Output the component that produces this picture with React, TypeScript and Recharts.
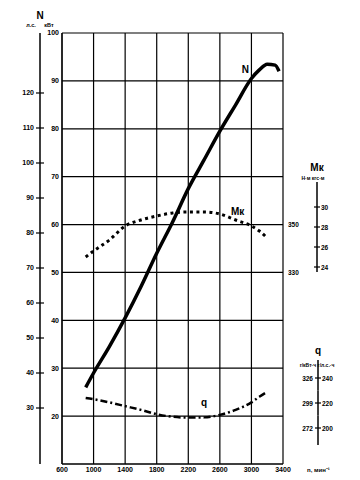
import { ComposedChart, Line, XAxis, YAxis, CartesianGrid } from 'recharts'

// engine speed, rpm
const rpm = [900, 1000, 1200, 1400, 1600, 1800, 2000, 2200, 2400, 2600, 2800, 3000, 3100, 3200, 3300, 3350]
// power N, kW
const powerKw = [26, 29, 34.5, 40.5, 47, 54, 60.5, 67.5, 73.5, 79.5, 85, 90.5, 92.3, 93.5, 93.3, 92]
// torque Mк, kgf·m
const torqueKgfm = [25, 25.6, 26.7, 28.1, 28.7, 29.1, 29.4, 29.5, 29.5, 29.3, 28.7, 28.1, 27.6, 26.9, null, null]
// specific fuel consumption q, g/hp·h
const fuelGhph = [224, 223, 220.5, 217.5, 214.5, 211, 209, 208.3, 208.5, 210.5, 214.5, 220.5, 225, 229, null, null]

const rpmTicks = [600, 1000, 1400, 1800, 2200, 2600, 3000, 3400]
const kwTicks = [20, 30, 40, 50, 60, 70, 80, 90, 100]
const hpTicks = [30, 40, 50, 60, 70, 80, 90, 100, 110, 120]
const mkNmTicks = [330, 350]
const mkTicks = [24, 26, 28, 30]
const qTicks = [200, 220, 240]
const qKwhLabels = [272, 299, 326]

const data = rpm.map((n, i) => ({
  n,
  N: powerKw[i],
  Mk: torqueKgfm[i],
  q: fuelGhph[i],
}))

const FONT = '"Liberation Sans", Arial, sans-serif'
const txt = { fontFamily: FONT, fontWeight: 700, fill: '#000' }

const HpTick = ({ x, y, payload }: any) => (
  <g>
    <line x1={x - 4} x2={x + 4} y1={y} y2={y} stroke="#000" strokeWidth={1.2} />
    <text x={x - 6} y={y + 2.5} textAnchor="end" fontSize={7} {...txt}>{payload.value}</text>
    {payload.value === hpTicks[hpTicks.length - 1] && (
      <>
        <text x={x} y={y - 74} textAnchor="middle" fontSize={10} {...txt}>N</text>
        <text x={x - 9} y={y - 66} textAnchor="middle" fontSize={5.5} {...txt}>л.с.</text>
        <text x={x + 9} y={y - 66} textAnchor="middle" fontSize={5.5} {...txt}>кВт</text>
      </>
    )}
  </g>
)

const MkTick = ({ x, y, payload }: any) => {
  const v = payload.value
  const top = v === mkTicks[mkTicks.length - 1]
  const bottom = v === mkTicks[0]
  return (
    <g>
      <line x1={x} x2={x} y1={y - (top ? 25 : 10)} y2={y + (bottom ? 5 : 10)} stroke="#000" strokeWidth={1.5} />
      <line x1={x - 3} x2={x + 3} y1={y} y2={y} stroke="#000" strokeWidth={1.2} />
      <text x={x + 4} y={y + 2.5} fontSize={6.5} {...txt}>{v}</text>
      {top && (
        <>
          <text x={x} y={y - 36} textAnchor="middle" fontSize={10} {...txt}>Mк</text>
          <text x={x - 4} y={y - 27} textAnchor="middle" fontSize={5} {...txt}>Н·м  кгс·м</text>
        </>
      )}
    </g>
  )
}

const QTick = ({ x, y, payload }: any) => {
  const v = payload.value
  const i = qTicks.indexOf(v)
  const top = i === qTicks.length - 1
  const bottom = i === 0
  return (
    <g>
      <line x1={x} x2={x} y1={y - (top ? 18 : 12.5)} y2={y + (bottom ? 17 : 12.5)} stroke="#000" strokeWidth={1.5} />
      <line x1={x - 3} x2={x + 3} y1={y} y2={y} stroke="#000" strokeWidth={1.2} />
      <text x={x - 5} y={y + 2.5} textAnchor="end" fontSize={6.5} {...txt}>{qKwhLabels[i]}</text>
      <text x={x + 4} y={y + 2.5} fontSize={6.5} {...txt}>{v}</text>
      {top && (
        <>
          <text x={x} y={y - 24} textAnchor="middle" fontSize={10} {...txt}>q</text>
          <text x={x - 1} y={y - 11} textAnchor="middle" fontSize={5} {...txt}>г/кВт·ч  г/л.с.·ч</text>
        </>
      )}
    </g>
  )
}

const XTick = ({ x, y, payload }: any) => (
  <g>
    <text x={x} y={y + 8} textAnchor="middle" fontSize={7} {...txt}>{payload.value}</text>
    {payload.value === rpmTicks[rpmTicks.length - 1] && (
      <text x={x + 24} y={y + 8} fontSize={6} {...txt}>n, мин⁻¹</text>
    )}
  </g>
)

const curveLabel = (text: string, at: number, dx: number, dy: number) => (props: any) => {
  if (props.index !== at) return null
  return (
    <text x={props.x + dx} y={props.y + dy} textAnchor="middle" fontSize={10} {...txt}>{text}</text>
  )
}

// axis ids are prefixed so they stack in the wanted order (a = next to the plot)
export default function App() {
  return (
    <div style={{ position: 'absolute', left: 0, top: 0, width: 360, height: 480, background: '#fff' }}>
      <ComposedChart width={360} height={480} data={data} margin={{ top: 33, right: 0, bottom: 0, left: 4 }}>
        <CartesianGrid yAxisId="a_kw" stroke="#000" strokeWidth={1.2} />
        <XAxis
          dataKey="n"
          type="number"
          domain={[600, 3400]}
          ticks={rpmTicks}
          interval={0}
          allowDataOverflow
          height={16}
          tickLine={false}
          tickSize={0}
          tickMargin={0}
          axisLine={{ stroke: '#000', strokeWidth: 1.2 }}
          tick={<XTick />}
        />
        <YAxis
          yAxisId="a_kw"
          type="number"
          domain={[10, 100]}
          ticks={kwTicks}
          interval={0}
          allowDataOverflow
          width={22}
          tickLine={false}
          tickSize={0}
          tickMargin={3}
          axisLine={{ stroke: '#000', strokeWidth: 1.2 }}
          tick={{ fontSize: 7, ...txt }}
        />
        <YAxis
          yAxisId="b_hp"
          type="number"
          domain={[14, 137.14]}
          ticks={hpTicks}
          interval={0}
          allowDataOverflow
          width={36}
          tickLine={false}
          tickSize={0}
          tickMargin={0}
          axisLine={{ stroke: '#000', strokeWidth: 1.5 }}
          tick={<HpTick />}
        />
        <YAxis
          yAxisId="a_mkNm"
          orientation="right"
          type="number"
          domain={[250.4, 430]}
          ticks={mkNmTicks}
          interval={0}
          allowDataOverflow
          width={34}
          tickLine={false}
          tickSize={0}
          tickMargin={5}
          axisLine={false}
          tick={{ fontSize: 6.5, ...txt }}
        />
        <YAxis
          yAxisId="b_mk"
          orientation="right"
          type="number"
          domain={[4.3, 47.4]}
          ticks={mkTicks}
          interval={0}
          allowDataOverflow
          width={1}
          tickLine={false}
          tickSize={0}
          tickMargin={0}
          axisLine={false}
          tick={<MkTick />}
        />
        <YAxis
          yAxisId="c_q"
          orientation="right"
          type="number"
          domain={[171.2, 516]}
          ticks={qTicks}
          interval={0}
          allowDataOverflow
          width={42}
          tickLine={false}
          tickSize={0}
          tickMargin={0}
          axisLine={false}
          tick={<QTick />}
        />
        <Line
          yAxisId="a_kw"
          dataKey="N"
          type="monotone"
          stroke="#000"
          strokeWidth={3.5}
          dot={false}
          isAnimationActive={false}
          label={curveLabel('N', 11, -6, -5)}
        />
        <Line
          yAxisId="b_mk"
          dataKey="Mk"
          type="monotone"
          stroke="#000"
          strokeWidth={3}
          strokeDasharray="3 3.5"
          dot={false}
          isAnimationActive={false}
          label={curveLabel('Mк', 10, 2, -5)}
        />
        <Line
          yAxisId="c_q"
          dataKey="q"
          type="monotone"
          stroke="#000"
          strokeWidth={2.5}
          strokeDasharray="7 3 2 3"
          dot={false}
          isAnimationActive={false}
          label={curveLabel('q', 8, 0, -11)}
        />
      </ComposedChart>
    </div>
  )
}
